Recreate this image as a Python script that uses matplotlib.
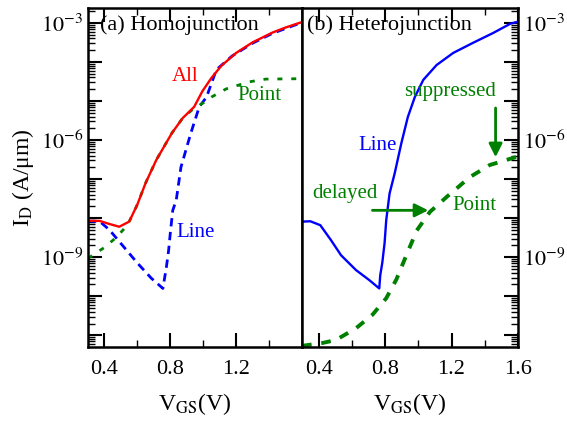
import numpy as np
import matplotlib
matplotlib.use("Agg")
from matplotlib import pyplot as plt
from matplotlib.ticker import FixedLocator, NullFormatter, FuncFormatter, MultipleLocator

plt.rcParams['font.family'] = ['Liberation Serif', 'DejaVu Serif']
plt.rcParams['mathtext.fontset'] = 'stix'
plt.rcParams['font.size'] = 16

RED = '#ff0000'
BLUE = '#0000ff'
GREEN = '#008000'

# (a) homojunction, log10(I_D)
v_all = [0.30, 0.37, 0.43, 0.49, 0.55, 0.60, 0.65, 0.715, 0.81, 0.875, 0.945, 0.995,
         1.05, 1.11, 1.20, 1.30, 1.42, 1.50, 1.60]
log_all = [-8.07, -8.07, -8.15, -8.22, -8.09, -7.65, -7.10, -6.51, -5.82, -5.44, -5.15, -4.75,
           -4.41, -4.10, -3.77, -3.50, -3.25, -3.12, -2.98]

v_point_a = [0.30, 0.40, 0.47, 0.54, 0.60, 0.65, 0.715, 0.81, 0.875, 0.94, 1.00, 1.05,
             1.14, 1.28, 1.38, 1.60]
log_point_a = [-9.03, -8.75, -8.50, -8.18, -7.65, -7.10, -6.51, -5.82, -5.44, -5.20, -5.05, -4.90,
               -4.69, -4.51, -4.44, -4.43]

v_line_a = [0.30, 0.37, 0.43, 0.51, 0.60, 0.685, 0.755, 0.776, 0.79, 0.80, 0.815, 0.836,
            0.865, 0.925, 0.976, 1.02, 1.08, 1.175, 1.30, 1.42, 1.60]
log_line_a = [-8.08, -8.08, -8.30, -8.70, -9.15, -9.54, -9.80, -9.26, -8.82, -8.38, -7.80, -7.54,
              -6.69, -5.82, -5.15, -4.90, -4.20, -3.85, -3.52, -3.27, -2.99]

# (b) heterojunction
v_line_b = [0.30, 0.35, 0.41, 0.474, 0.535, 0.625, 0.706, 0.765, 0.771, 0.783, 0.797, 0.807,
            0.827, 0.858, 0.898, 0.937, 0.979, 1.03, 1.11, 1.21, 1.33, 1.45, 1.555, 1.60]
log_line_b = [-8.09, -8.08, -8.18, -8.56, -8.95, -9.33, -9.59, -9.80, -9.46, -9.15, -8.64, -8.05,
              -7.37, -6.85, -6.08, -5.41, -4.90, -4.46, -4.08, -3.77, -3.51, -3.26, -3.02, -2.97]

v_point_b = [0.30, 0.42, 0.504, 0.625, 0.725, 0.807, 0.868, 0.937, 0.99, 1.07, 1.17, 1.31,
             1.43, 1.60]
log_point_b = [-11.27, -11.20, -11.12, -10.82, -10.47, -10.05, -9.57, -8.86, -8.32, -7.84, -7.46, -6.95,
               -6.64, -6.42]

fig = plt.figure(figsize=(5.67, 4.26), dpi=100)
ax1 = fig.add_axes([0.1552, 0.1854, 0.3774, 0.7958])
ax2 = fig.add_axes([0.5326, 0.1854, 0.3810, 0.7958])

ax1.plot(v_line_a, 10**np.array(log_line_a), color=BLUE, lw=2.0, dashes=(3.0, 2.0))
ax1.plot(v_point_a, 10**np.array(log_point_a), color=GREEN, lw=2.0, dashes=(1.8, 3.2))
ax1.plot(v_all, 10**np.array(log_all), color=RED, lw=1.7)

ax2.plot(v_line_b, 10**np.array(log_line_b), color=BLUE, lw=1.7)
ax2.plot(v_point_b, 10**np.array(log_point_b), color=GREEN, lw=2.8, dashes=(2.5, 2.5))


def decade_label(y, pos):
    e = int(round(np.log10(y)))
    if e in (-3, -6, -9):
        return r'$10^{%d}$' % e
    return ''


majors = [10.0**e for e in range(-12, -1)]
minors = [m * 10.0**e for e in range(-12, -1) for m in range(2, 10)]

for ax in (ax1, ax2):
    ax.set_yscale('log')
    ax.set_xlim(0.3, 1.6)
    ax.set_ylim(10**-11.3, 10**-2.62)
    ax.xaxis.set_major_locator(MultipleLocator(0.4))
    ax.xaxis.set_minor_locator(MultipleLocator(0.2))
    ax.yaxis.set_major_locator(FixedLocator(majors))
    ax.yaxis.set_minor_locator(FixedLocator(minors))
    ax.yaxis.set_major_formatter(FuncFormatter(decade_label))
    ax.yaxis.set_minor_formatter(NullFormatter())
    ax.tick_params(which='major', direction='in', length=10, width=1.5, top=True)
    ax.tick_params(which='minor', direction='in', length=5, width=1.0, top=True)
    ax.tick_params(axis='x', pad=9)
    for s in ax.spines.values():
        s.set_linewidth(1.8)
    ax.set_xlabel(r'V$_{\rm GS}$(V)', fontsize=17, labelpad=9)

ax1.set_xticks([0.4, 0.8, 1.2])
ax1.tick_params(axis='y', which='both', left=True, right=False)
ax2.set_xticks([0.4, 0.8, 1.2, 1.6])
ax2.tick_params(axis='y', which='both', left=False, right=True, labelleft=False, labelright=True)
ax1.set_ylabel('I$_{\\rm D}$ (A/μm)', fontsize=17, labelpad=3)

ax1.text(0.056, 0.95, '(a) Homojunction', transform=ax1.transAxes, fontsize=16, va='center')
ax2.text(0.023, 0.95, '(b) Heterojunction', transform=ax2.transAxes, fontsize=16, va='center')

ax1.text(0.89, 10**-4.38, 'All', color=RED, fontsize=15, ha='center', va='center')
ax1.text(1.34, 10**-4.85, 'Point', color=GREEN, fontsize=15, ha='center', va='center')
ax1.text(0.955, 10**-8.38, 'Line', color=BLUE, fontsize=15, ha='center', va='center')

ax2.text(0.755, 10**-6.13, 'Line', color=BLUE, fontsize=15, ha='center', va='center')
ax2.text(1.34, 10**-7.67, 'Point', color=GREEN, fontsize=15, ha='center', va='center')
ax2.text(0.56, 10**-7.36, 'delayed', color=GREEN, fontsize=15, ha='center', va='center')
ax2.text(1.19, 10**-4.75, 'suppressed', color=GREEN, fontsize=15, ha='center', va='center')

arrow = dict(arrowstyle='-|>', color=GREEN, lw=2.0, mutation_scale=20, shrinkA=0, shrinkB=0)
ax2.annotate('', xy=(1.06, 10**-7.8), xytext=(0.724, 10**-7.8), arrowprops=arrow)
ax2.annotate('', xy=(1.465, 10**-6.44), xytext=(1.465, 10**-5.18), arrowprops=arrow)

fig.savefig('out.png', dpi=100)
